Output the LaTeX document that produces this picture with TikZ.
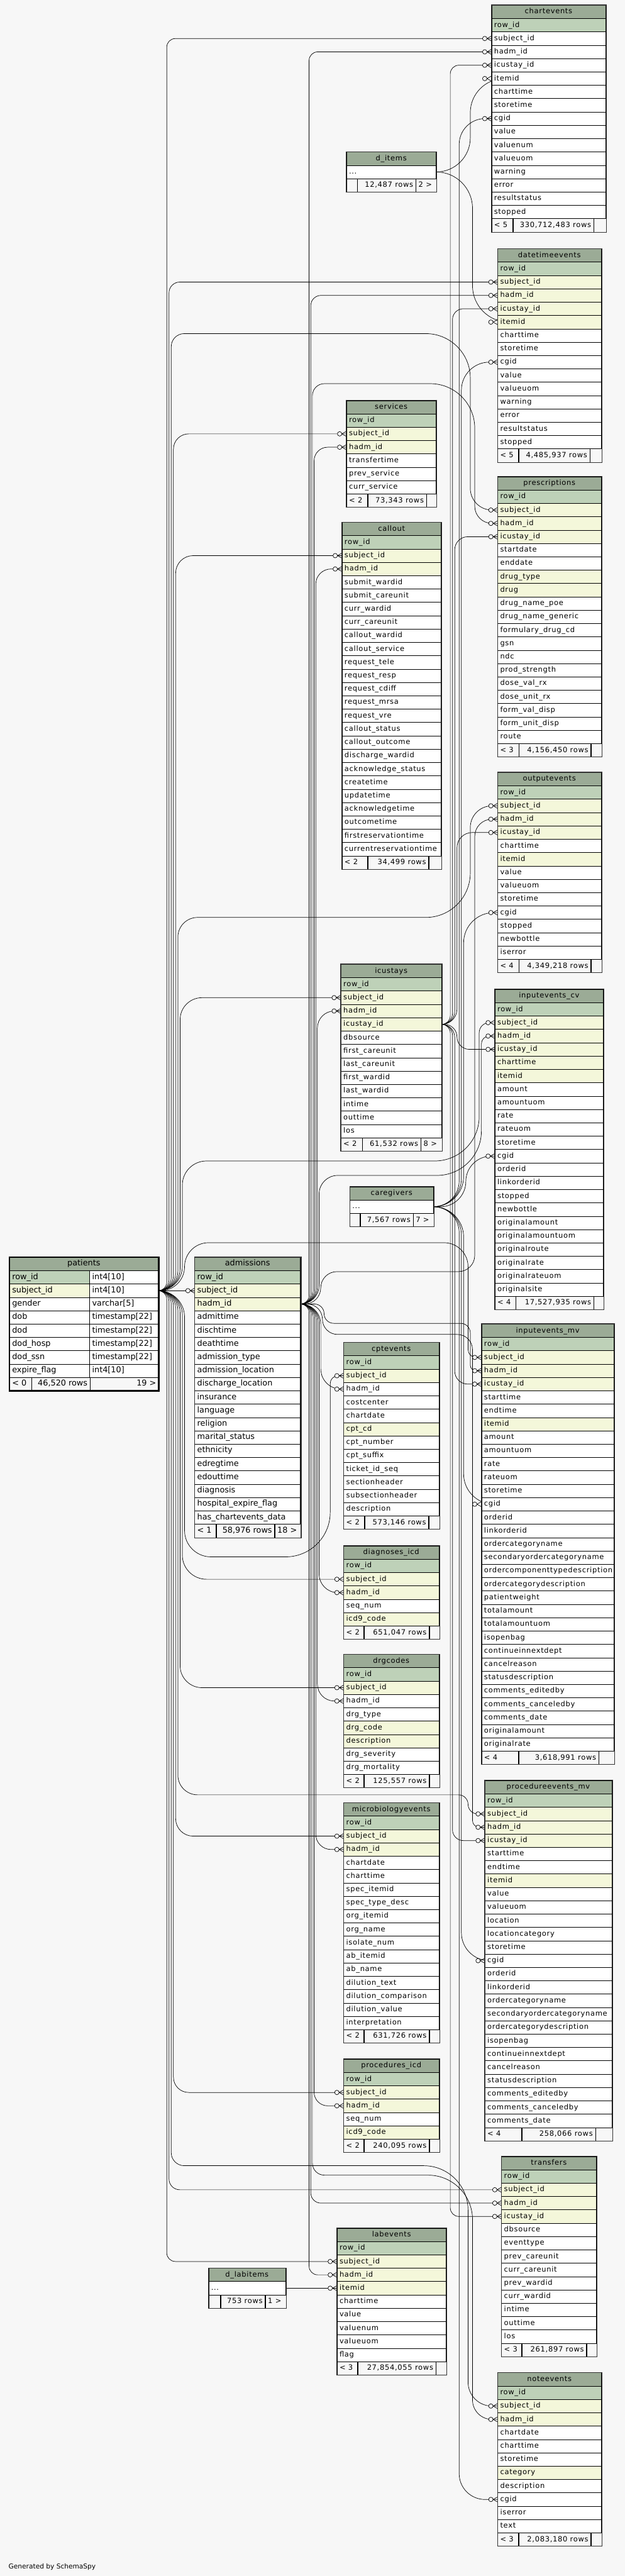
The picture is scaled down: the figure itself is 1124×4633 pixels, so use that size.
\documentclass[tikz,border=0pt]{standalone}
\usepackage{fontspec}
\usetikzlibrary{calc}
\newfontfamily\erfont[LetterSpace=6]{DejaVu Sans}
\newfontfamily\fcfont{DejaVu Sans}
\definecolor{bg}{HTML}{F7F7F7}
\definecolor{headgray}{HTML}{9BAB96}
\definecolor{pkgreen}{HTML}{BED1B8}
\definecolor{ixyellow}{HTML}{F4F7DA}
\pgfdeclarelayer{back}
\pgfdeclarelayer{edges}
\pgfsetlayers{back,edges,main}
\catcode`\_=12
\tikzset{
  tabcell/.style={draw, line width=0.6pt, anchor=north west, inner xsep=4.5pt, inner ysep=0pt,
    minimum height=24pt, text height=9.5pt, text depth=2.5pt},
  tabhead/.style={tabcell, fill=headgray},
  tabfoot/.style={tabcell, fill=bg},
  row pk/.style={fill=pkgreen},
  row ix/.style={fill=ixyellow},
  row pl/.style={fill=white},
  tabframe/.style={draw=black!80, line width=1.3pt},
  er/.style={font=\erfont\fontsize{13}{15}\selectfont},
  focus/.style={font=\fcfont\fontsize{14.5}{17}\selectfont},
  fk/.style={line width=0.8pt},
  crowfoot/.pic={
    \draw[line width=0.8pt] (-8,0) -- (0,-4.5) (-8,0) -- (0,4.5);
    \draw[line width=0.8pt, fill=bg] (-12,0) circle (4pt);
  },
}
% table: [font style]{name}{left}{top}{width}{column/kind list}
\newcommand{\dbtable}[6][er]{%
  \pgfmathsetmacro{\tw}{#5-9}%
  \node[tabhead,#1] (#2) at (#3,#4) {\makebox[\tw pt][c]{#2}};
  \foreach \col/\kind [count=\i] in {#6} {
    \node[tabcell,#1,row \kind] (#2-\col) at (#3,#4+24*\i) {\makebox[\tw pt][l]{\col}};
    \xdef\nrows{\i}
  }
  \coordinate (#2-foot) at (#3,#4+24*\nrows+24);
}
% table shown only by its name
\newcommand{\dbref}[4]{%
  \pgfmathsetmacro{\tw}{#4-9}%
  \node[tabhead,er] (#1) at (#2,#3) {\makebox[\tw pt][c]{#1}};
  \node[tabcell,er,row pl] (#1-dots) at (#2,#3+24) {\makebox[\tw pt][l]{...}};
  \coordinate (#1-foot) at (#2,#3+48);
}
% footer: [font style]{name}{width}{w1}{text1}{text2}{w3}{text3}
\newcommand{\dbfoot}[8][er]{%
  \pgfmathsetmacro{\wa}{#4-9}%
  \pgfmathsetmacro{\wb}{#3-#4-#7-9}%
  \pgfmathsetmacro{\wc}{#7-9}%
  \node[tabfoot,#1] (#2-f1) at (#2-foot) {\makebox[\wa pt][l]{#5}};
  \node[tabfoot,#1] (#2-f2) at (#2-f1.north east) {\makebox[\wb pt][r]{#6}};
  \node[tabfoot,#1] (#2-f3) at (#2-f2.north east) {\makebox[\wc pt][l]{#8}};
  \draw[tabframe] (#2.north west) rectangle (#2-f3.south east);
}
% key -> foreign key, bent at channel x
\newcommand{\fkd}[3]{%
  \draw[fk] let \p1=(#1.east), \p2=(#2.west),
    \n1={max(1pt,min(#3pt-\x1, abs(\y2-\y1)/2))},
    \n2={max(1pt,min(120pt, abs(\y2-\y1)-\n1, \x2-#3pt-10pt))} in
    [rounded corners=\n1] (\p1) -| (#3pt,\y2) [rounded corners=\n2] -- (\p2);
  \pic at (#2.west) {crowfoot};
}
% key -> foreign key through a gap: channel x, gap y, drop x
\newcommand{\fk}[5]{%
  \draw[fk] let \p1=(#1.east), \p2=(#2.west),
    \n1={max(1pt,min(#3pt-\x1, abs(-#4pt-\y1)/2))},
    \n2={max(1pt,min(80pt, abs(-#4pt-\y1)-\n1, abs(#5pt-#3pt)/2, abs(\y2+#4pt)/2))},
    \n3={max(1pt,min(60pt, abs(#5pt-#3pt)/2, abs(\y2+#4pt)/2, \x2-#5pt-10pt))} in
    [rounded corners=\n1] (\p1) -| (#3,#4) [rounded corners=\n2] -- (#5,#4)
    [rounded corners=\n3] |- (\p2);
  \pic at (#2.west) {crowfoot};
}
\begin{document}
\begin{tikzpicture}[x=1pt,y=-1pt]
\useasboundingbox (0,0) rectangle (1124,4633);
\begin{pgfonlayer}{back}
  \fill[bg] (0,0) rectangle (1124,4633);
\end{pgfonlayer}

% right column
\dbtable{chartevents}{884}{9}{205}{row_id/pk, subject_id/pl, hadm_id/pl, icustay_id/pl, itemid/pl, charttime/pl, storetime/pl, cgid/pl, value/pl, valuenum/pl, valueuom/pl, warning/pl, error/pl, resultstatus/pl, stopped/pl}
\dbfoot{chartevents}{205}{38}{< 5}{330,712,483 rows}{22}{}

\dbtable{datetimeevents}{895}{447}{186}{row_id/pk, subject_id/ix, hadm_id/ix, icustay_id/ix, itemid/ix, charttime/pl, storetime/pl, cgid/pl, value/pl, valueuom/pl, warning/pl, error/pl, resultstatus/pl, stopped/pl}
\dbfoot{datetimeevents}{186}{37}{< 5}{4,485,937 rows}{21}{}

\dbtable{prescriptions}{895}{857}{186}{row_id/pk, subject_id/ix, hadm_id/ix, icustay_id/ix, startdate/pl, enddate/pl, drug_type/ix, drug/ix, drug_name_poe/pl, drug_name_generic/pl, formulary_drug_cd/pl, gsn/pl, ndc/pl, prod_strength/pl, dose_val_rx/pl, dose_unit_rx/pl, form_val_disp/pl, form_unit_disp/pl, route/pl}
\dbfoot{prescriptions}{186}{38}{< 3}{4,156,450 rows}{19}{}

\dbtable{outputevents}{895}{1389}{186}{row_id/pk, subject_id/ix, hadm_id/ix, icustay_id/ix, charttime/pl, itemid/ix, value/pl, valueuom/pl, storetime/pl, cgid/pl, stopped/pl, newbottle/pl, iserror/pl}
\dbfoot{outputevents}{186}{38}{< 4}{4,349,218 rows}{19}{}

\dbtable{inputevents_cv}{890}{1779}{195}{row_id/pk, subject_id/ix, hadm_id/ix, icustay_id/ix, charttime/ix, itemid/ix, amount/pl, amountuom/pl, rate/pl, rateuom/pl, storetime/pl, cgid/pl, orderid/pl, linkorderid/pl, stopped/pl, newbottle/pl, originalamount/pl, originalamountuom/pl, originalroute/pl, originalrate/pl, originalrateuom/pl, originalsite/pl}
\dbfoot{inputevents_cv}{195}{37}{< 4}{17,527,935 rows}{18}{}

\dbtable{inputevents_mv}{866}{2381}{238}{row_id/pk, subject_id/ix, hadm_id/ix, icustay_id/ix, starttime/pl, endtime/pl, itemid/ix, amount/pl, amountuom/pl, rate/pl, rateuom/pl, storetime/pl, cgid/pl, orderid/pl, linkorderid/pl, ordercategoryname/pl, secondaryordercategoryname/pl, ordercomponenttypedescription/pl, ordercategorydescription/pl, patientweight/pl, totalamount/pl, totalamountuom/pl, isopenbag/pl, continueinnextdept/pl, cancelreason/pl, statusdescription/pl, comments_editedby/pl, comments_canceledby/pl, comments_date/pl, originalamount/pl, originalrate/pl}
\dbfoot{inputevents_mv}{238}{66}{< 4}{3,618,991 rows}{28}{}

\dbtable{procedureevents_mv}{872}{3202}{228}{row_id/pk, subject_id/ix, hadm_id/ix, icustay_id/ix, starttime/pl, endtime/pl, itemid/ix, value/pl, valueuom/pl, location/pl, locationcategory/pl, storetime/pl, cgid/pl, orderid/pl, linkorderid/pl, ordercategoryname/pl, secondaryordercategoryname/pl, ordercategorydescription/pl, isopenbag/pl, continueinnextdept/pl, cancelreason/pl, statusdescription/pl, comments_editedby/pl, comments_canceledby/pl, comments_date/pl}
\dbfoot{procedureevents_mv}{228}{66}{< 4}{258,066 rows}{30}{}

\dbtable{transfers}{902}{3878}{170}{row_id/pk, subject_id/ix, hadm_id/ix, icustay_id/ix, dbsource/pl, eventtype/pl, prev_careunit/pl, curr_careunit/pl, prev_wardid/pl, curr_wardid/pl, intime/pl, outtime/pl, los/pl}
\dbfoot{transfers}{170}{36}{< 3}{261,897 rows}{18}{}

\dbtable{noteevents}{895}{4267}{186}{row_id/pk, subject_id/ix, hadm_id/ix, chartdate/pl, charttime/pl, storetime/pl, category/ix, description/pl, cgid/pl, iserror/pl, text/pl}
\dbfoot{noteevents}{186}{37}{< 3}{2,083,180 rows}{19}{}

% middle column
\dbref{d_items}{623}{273}{161}
\dbfoot{d_items}{161}{19}{}{12,487 rows}{37}{2 >}

\dbtable{services}{623}{720}{161}{row_id/pk, subject_id/ix, hadm_id/ix, transfertime/pl, prev_service/pl, curr_service/pl}
\dbfoot{services}{161}{38}{< 2}{73,343 rows}{18}{}

\dbtable{callout}{615}{939}{178}{row_id/pk, subject_id/ix, hadm_id/ix, submit_wardid/pl, submit_careunit/pl, curr_wardid/pl, curr_careunit/pl, callout_wardid/pl, callout_service/pl, request_tele/pl, request_resp/pl, request_cdiff/pl, request_mrsa/pl, request_vre/pl, callout_status/pl, callout_outcome/pl, discharge_wardid/pl, acknowledge_status/pl, createtime/pl, updatetime/pl, acknowledgetime/pl, outcometime/pl, firstreservationtime/pl, currentreservationtime/pl}
\dbfoot{callout}{178}{46}{< 2}{34,499 rows}{23}{}

\dbtable{icustays}{613}{1734}{181}{row_id/pk, subject_id/ix, hadm_id/ix, icustay_id/ix, dbsource/pl, first_careunit/pl, last_careunit/pl, first_wardid/pl, last_wardid/pl, intime/pl, outtime/pl, los/pl}
\dbfoot{icustays}{181}{38}{< 2}{61,532 rows}{38}{8 >}

\dbref{caregivers}{629}{2134}{150}
\dbfoot{caregivers}{150}{18}{}{7,567 rows}{37}{7 >}

\dbtable{cptevents}{618}{2414}{171}{row_id/pk, subject_id/ix, hadm_id/pl, costcenter/pl, chartdate/pl, cpt_cd/ix, cpt_number/pl, cpt_suffix/pl, ticket_id_seq/pl, sectionheader/pl, subsectionheader/pl, description/pl}
\dbfoot{cptevents}{171}{37}{< 2}{573,146 rows}{19}{}

\dbtable{diagnoses_icd}{618}{2780}{171}{row_id/pk, subject_id/ix, hadm_id/ix, seq_num/pl, icd9_code/ix}
\dbfoot{diagnoses_icd}{171}{36}{< 2}{651,047 rows}{18}{}

\dbtable{drgcodes}{618}{2975}{171}{row_id/pk, subject_id/ix, hadm_id/pl, drg_type/pl, drg_code/ix, description/ix, drg_severity/pl, drg_mortality/pl}
\dbfoot{drgcodes}{171}{36}{< 2}{125,557 rows}{18}{}

\dbtable{microbiologyevents}{618}{3242}{171}{row_id/pk, subject_id/ix, hadm_id/ix, chartdate/pl, charttime/pl, spec_itemid/pl, spec_type_desc/pl, org_itemid/pl, org_name/pl, isolate_num/pl, ab_itemid/pl, ab_name/pl, dilution_text/pl, dilution_comparison/pl, dilution_value/pl, interpretation/pl}
\dbfoot{microbiologyevents}{171}{36}{< 2}{631,726 rows}{18}{}

\dbtable{procedures_icd}{618}{3703}{171}{row_id/pk, subject_id/ix, hadm_id/ix, seq_num/pl, icd9_code/ix}
\dbfoot{procedures_icd}{171}{36}{< 2}{240,095 rows}{18}{}

\dbtable{labevents}{606}{4007}{196}{row_id/pk, subject_id/ix, hadm_id/ix, itemid/ix, charttime/pl, value/pl, valuenum/pl, valueuom/pl, flag/pl}
\dbfoot{labevents}{196}{37}{< 3}{27,854,055 rows}{19}{}

\dbref{d_labitems}{375}{4079}{138}
\dbfoot{d_labitems}{138}{21}{}{753 rows}{37}{1 >}

% left: patients and admissions
\node[tabhead,focus] (patients) at (17,2261) {\makebox[258pt][c]{patients}};
\foreach \col/\ty/\kind [count=\i] in {row_id/int4[10]/pk, subject_id/int4[10]/ix, gender/varchar[5]/pl, dob/timestamp[22]/pl, dod/timestamp[22]/pl, dod_hosp/timestamp[22]/pl, dod_ssn/timestamp[22]/pl, expire_flag/int4[10]/pl} {
  \node[tabcell,focus,row \kind] (patients-\col) at (17,2261+24*\i) {\makebox[135pt][l]{\col}};
  \node[tabcell,focus,row pl] (patients-\col-type) at (161,2261+24*\i) {\makebox[114pt][l]{\ty}};
}
\coordinate (patients-foot) at (17,2477);
\dbfoot[focus]{patients}{267}{39}{< 0}{46,520 rows}{123}{\hfill 19 >}
\draw[line width=3pt] (patients.north west) rectangle (patients-f3.south east);

\dbtable[focus]{admissions}{350}{2261}{190}{row_id/pk, subject_id/ix, hadm_id/ix, admittime/pl, dischtime/pl, deathtime/pl, admission_type/pl, admission_location/pl, discharge_location/pl, insurance/pl, language/pl, religion/pl, marital_status/pl, ethnicity/pl, edregtime/pl, edouttime/pl, diagnosis/pl, hospital_expire_flag/pl, has_chartevents_data/pl}
\dbfoot[focus]{admissions}{190}{38}{< 1}{58,976 rows}{47}{18 >}

\node[anchor=south west, font=\fcfont\fontsize{12}{14}\selectfont] (credit) at (12,4626) {Generated by SchemaSpy};

\begin{pgfonlayer}{edges}
% patients.subject_id
\draw[fk] (patients-subject_id-type.east) -- (admissions-subject_id.west);
\pic at (admissions-subject_id.west) {crowfoot};
\fkd{patients-subject_id-type}{chartevents-subject_id}{300}
\fkd{patients-subject_id-type}{datetimeevents-subject_id}{304}
\fk{patients-subject_id-type}{prescriptions-subject_id}{308}{600}{846}
\fkd{patients-subject_id-type}{services-subject_id}{312}
\fkd{patients-subject_id-type}{callout-subject_id}{316}
\fk{patients-subject_id-type}{outputevents-subject_id}{320}{1650}{846}
\fkd{patients-subject_id-type}{icustays-subject_id}{324}
\fk{patients-subject_id-type}{inputevents_cv-subject_id}{328}{2088}{862}
\fk{patients-subject_id-type}{inputevents_mv-subject_id}{332}{2235}{842}
\fkd{patients-subject_id-type}{labevents-subject_id}{300}
\fkd{patients-subject_id-type}{transfers-subject_id}{304}
\fk{patients-subject_id-type}{noteevents-subject_id}{308}{3895}{842}
\fkd{patients-subject_id-type}{procedures_icd-subject_id}{312}
\fkd{patients-subject_id-type}{microbiologyevents-subject_id}{316}
\fk{patients-subject_id-type}{procedureevents_mv-subject_id}{320}{3228}{842}
\fkd{patients-subject_id-type}{drgcodes-subject_id}{324}
\fkd{patients-subject_id-type}{diagnoses_icd-subject_id}{328}
\fk{patients-subject_id-type}{cptevents-subject_id}{332}{2800}{594}

% admissions.hadm_id
\fkd{admissions-hadm_id}{chartevents-hadm_id}{556}
\fkd{admissions-hadm_id}{datetimeevents-hadm_id}{559}
\fk{admissions-hadm_id}{prescriptions-hadm_id}{562}{690}{854}
\fkd{admissions-hadm_id}{services-hadm_id}{565}
\fkd{admissions-hadm_id}{callout-hadm_id}{568}
\fkd{admissions-hadm_id}{icustays-hadm_id}{571}
\fk{admissions-hadm_id}{inputevents_cv-hadm_id}{574}{2114}{866}
\fk{admissions-hadm_id}{outputevents-hadm_id}{577}{2287}{854}
\fkd{admissions-hadm_id}{labevents-hadm_id}{556}
\fkd{admissions-hadm_id}{transfers-hadm_id}{559}
\fk{admissions-hadm_id}{noteevents-hadm_id}{562}{3912}{850}
\fkd{admissions-hadm_id}{procedures_icd-hadm_id}{565}
\fkd{admissions-hadm_id}{microbiologyevents-hadm_id}{568}
\fkd{admissions-hadm_id}{drgcodes-hadm_id}{571}
\fkd{admissions-hadm_id}{diagnoses_icd-hadm_id}{574}
\fkd{admissions-hadm_id}{cptevents-hadm_id}{577}
\fk{admissions-hadm_id}{procedureevents_mv-hadm_id}{580}{2400}{850}
\fk{admissions-hadm_id}{inputevents_mv-hadm_id}{583}{2380}{846}

% icustays.icustay_id
\fkd{icustays-icustay_id}{chartevents-icustay_id}{810}
\fkd{icustays-icustay_id}{datetimeevents-icustay_id}{814}
\fkd{icustays-icustay_id}{prescriptions-icustay_id}{818}
\fkd{icustays-icustay_id}{outputevents-icustay_id}{822}
\fkd{icustays-icustay_id}{inputevents_cv-icustay_id}{822}
\fkd{icustays-icustay_id}{inputevents_mv-icustay_id}{818}
\fkd{icustays-icustay_id}{procedureevents_mv-icustay_id}{814}
\fkd{icustays-icustay_id}{transfers-icustay_id}{810}

% caregivers
\fkd{caregivers-dots}{chartevents-cgid}{826}
\fkd{caregivers-dots}{datetimeevents-cgid}{830}
\fkd{caregivers-dots}{outputevents-cgid}{834}
\fkd{caregivers-dots}{inputevents_cv-cgid}{838}
\fkd{caregivers-dots}{inputevents_mv-cgid}{834}
\fkd{caregivers-dots}{procedureevents_mv-cgid}{830}
\fkd{caregivers-dots}{noteevents-cgid}{826}

% item dictionaries
\fkd{d_items-dots}{chartevents-itemid}{846}
\fkd{d_items-dots}{datetimeevents-itemid}{850}
\draw[fk] (d_labitems-dots.east) -- (labevents-itemid.west);
\pic at (labevents-itemid.west) {crowfoot};
\end{pgfonlayer}
\end{tikzpicture}
\end{document}
